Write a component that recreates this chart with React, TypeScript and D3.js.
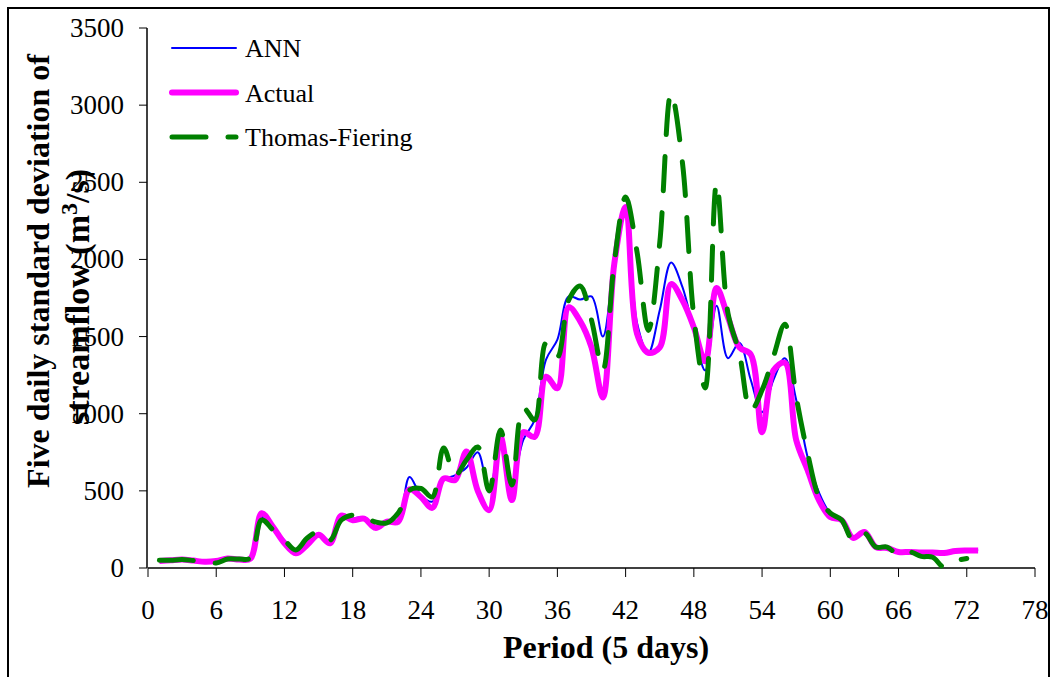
import React from 'react';
import * as d3 from 'd3';

// five-day periods 1..73
const periods = d3.range(1, 74);

const actual = [45, 50, 55, 48, 40, 45, 62, 55, 60, 355, 265, 160, 95, 150, 215, 160, 340, 310, 320, 260,
  300, 300, 510, 460, 390, 580, 570, 755, 500, 375, 850, 440, 880, 850, 1240, 1165, 1690, 1600, 1430, 1105,
  1970, 2340, 1520, 1395, 1430, 1840, 1735, 1560, 1340, 1815, 1625, 1430, 1385, 880, 1280, 1330, 830, 635, 440, 330,
  310, 195, 233, 136, 130, 104, 104, 100, 100, 97, 110, 113, 113];

const ann = [45, 50, 55, 48, 42, 48, 65, 55, 60, 330, 255, 180, 110, 165, 205, 180, 320, 320, 330, 270,
  290, 310, 590, 470, 430, 570, 600, 650, 750, 490, 820, 560, 830, 960, 1350, 1480, 1760, 1740, 1760, 1500,
  1980, 2320, 1590, 1395, 1670, 1980, 1820, 1540, 1280, 1700, 1360, 1460, 1220, 1010, 1220, 1360, 1090, 720, 490, 356,
  315, 195, 233, 136, 130, 104, 104, 100, 100, 97, 110, 113, 118];

const thomas = [50, 50, 55, 48, 42, 32, 58, 58, 65, 311, 246, 181, 117, 194, 235, 180, 311, 343, 330, 298,
  292, 356, 505, 515, 460, 778, 600, 700, 784, 500, 894, 538, 1037, 960, 1458, 1367, 1737, 1828, 1607, 1283,
  1977, 2404, 2050, 1540, 2106, 3078, 2625, 1627, 1167, 2495, 1652, 1393, 1020, 1153, 1370, 1580, 1110, 745, 460, 356,
  311, 181, 227, 136, 136, 84, 104, 75, 70, 5, 45, 62];

const xTicks = d3.range(0, 79, 6);
const yTicks = d3.range(0, 3501, 500);

const legendItems = [
  { label: 'ANN', color: '#0000ff', width: 2, dash: 'none' },
  { label: 'Actual', color: '#ff00ff', width: 6, dash: 'none' },
  { label: 'Thomas-Fiering', color: '#008000', width: 5, dash: '34 22' },
];

const FONT = '"Liberation Serif", "Times New Roman", serif';

export default function App() {
  const W = 1056, H = 677;
  const x = d3.scaleLinear().domain([0, 78]).range([148, 1035]);
  const y = d3.scaleLinear().domain([0, 3500]).range([568, 28]);
  const curve = d3.curveCatmullRom.alpha(0.5);
  const mk = (vals: number[]) =>
    d3.line<number>().x((_, i) => x(periods[i])).y(v => y(v)).curve(curve)(vals) || '';

  return (
    <svg width={W} height={H} style={{ position: 'absolute', left: 0, top: 0, background: '#fff' }} fontFamily={FONT}>
      <rect x={8} y={8} width={1041} height={700} fill="#fff" stroke="#000" strokeWidth={2} />

      {/* y axis */}
      <line x1={147} x2={147} y1={y(3500)} y2={y(0)} stroke="#000" strokeWidth={1.5} />
      {yTicks.map(t => (
        <g key={t}>
          <line x1={139} x2={147} y1={y(t)} y2={y(t)} stroke="#000" />
          <text x={124} y={y(t) + 9} textAnchor="end" fontSize={27}>{t}</text>
        </g>
      ))}

      {/* x axis */}
      <line x1={x(0)} x2={x(78)} y1={568} y2={568} stroke="#000" strokeWidth={1.5} />
      {xTicks.map(t => (
        <g key={t}>
          <line x1={x(t)} x2={x(t)} y1={568} y2={577} stroke="#000" />
          <text x={x(t)} y={619} textAnchor="middle" fontSize={27}>{t}</text>
        </g>
      ))}

      <text x={606} y={658} textAnchor="middle" fontSize={32} fontWeight="bold">Period (5 days)</text>
      <text transform="translate(49,271) rotate(-90)" textAnchor="middle" fontSize={32} fontWeight="bold">
        Five daily standard deviation of
      </text>
      <text transform="translate(89,297) rotate(-90)" textAnchor="middle" fontSize={34} fontWeight="bold">
        streamflow (m<tspan dy={-12} fontSize={24}>3</tspan><tspan dy={12}>/s)</tspan>
      </text>

      {/* series */}
      <path d={mk(ann)} fill="none" stroke="#0000ff" strokeWidth={2} />
      <path d={mk(actual)} fill="none" stroke="#ff00ff" strokeWidth={6} strokeLinejoin="round" />
      <path d={mk(thomas)} fill="none" stroke="#008000" strokeWidth={5} strokeDasharray="34 22" strokeLinecap="round" />

      {/* legend */}
      {legendItems.map((d, i) => {
        const ly = 48 + i * 44.5;
        return (
          <g key={d.label}>
            <line x1={172} x2={236} y1={ly} y2={ly} stroke={d.color} strokeWidth={d.width}
              strokeDasharray={d.dash} strokeLinecap="round" />
            <text x={245} y={ly + 9} fontSize={26}>{d.label}</text>
          </g>
        );
      })}
    </svg>
  );
}
